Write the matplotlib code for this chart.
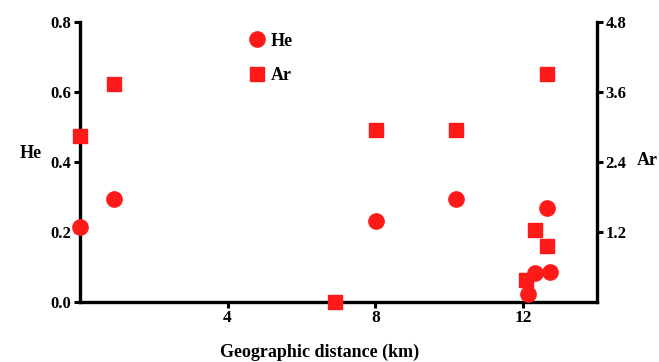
import matplotlib.pyplot as plt
from matplotlib.lines import Line2D

plt.rcParams['font.family'] = 'Liberation Serif'
plt.rcParams['font.weight'] = 'bold'
plt.rcParams['axes.labelweight'] = 'bold'
plt.rcParams['font.size'] = 12

# geographic distance (km)
he_dist = [0.0, 0.92, 8.03, 10.19, 12.65, 12.14, 12.32, 12.73]
he_vals = [0.214, 0.294, 0.231, 0.294, 0.269, 0.023, 0.083, 0.086]

ar_dist = [0.0, 0.92, 6.92, 8.03, 10.19, 12.65, 12.32, 12.65, 12.08]
ar_vals = [2.85, 3.74, 0.0, 2.95, 2.95, 3.91, 1.23, 0.96, 0.38]

x_ticks = [4, 8, 12]
he_ticks = [0.0, 0.2, 0.4, 0.6, 0.8]
ar_ticks = [1.2, 2.4, 3.6, 4.8]

red = '#ff1a1a'

fig = plt.figure(figsize=(6.59, 3.62), dpi=100)
ax = fig.add_axes([0.121, 0.166, 0.785, 0.773])
ax2 = ax.twinx()

ax.plot(he_dist, he_vals, 'o', color=red, markersize=11, clip_on=False, zorder=5)
ax2.plot(ar_dist, ar_vals, 's', color=red, markersize=9.5, clip_on=False, zorder=5)

for a in (ax, ax2):
    a.spines['top'].set_visible(False)
    for s in a.spines.values():
        s.set_linewidth(2.4)
    a.tick_params(width=2.2, length=4, pad=2, labelsize=12)
ax2.spines['left'].set_visible(False)
ax2.spines['bottom'].set_visible(False)
ax.spines['right'].set_visible(False)

ax.set_xlim(0, 14)
ax.set_ylim(0, 0.8)
ax2.set_ylim(0, 4.8)
ax.set_xticks(x_ticks, labels=[str(v) for v in x_ticks], fontweight='heavy',
              fontsize=12.5)
ax.set_yticks(he_ticks, labels=['%.1f' % v for v in he_ticks], fontweight='bold')
ax2.set_yticks(ar_ticks, labels=['%.1f' % v for v in ar_ticks], fontweight='bold')

ax.set_xlabel('Geographic distance (km)', fontsize=13, fontweight='bold')
ax.xaxis.set_label_coords(0.464, -0.15)
ax.set_ylabel('He', rotation=0, fontsize=13, fontweight='bold')
ax.yaxis.set_label_coords(-0.095, 0.50)
ax2.set_ylabel('Ar', rotation=0, fontsize=13, fontweight='bold')
ax2.yaxis.set_label_coords(1.097, 0.534)

handles = [Line2D([], [], marker='o', color=red, ls='none', markersize=11),
           Line2D([], [], marker='s', color=red, ls='none', markersize=9.5)]
leg = ax.legend(handles, ['He', 'Ar'], loc='upper left', bbox_to_anchor=(0.285, 1.02),
                frameon=False, handletextpad=0.0, labelspacing=0.95, fontsize=13,
                handlelength=1.5)
for t in leg.get_texts():
    t.set_fontweight('bold')

fig.savefig('out.png', dpi=100)
